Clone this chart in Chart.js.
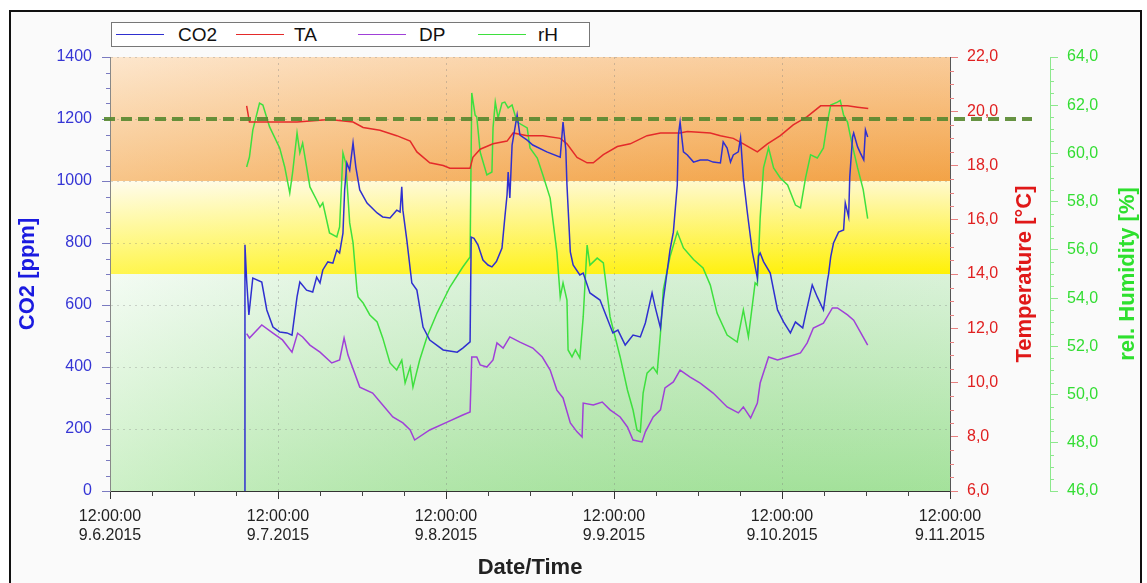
<!DOCTYPE html>
<html lang="de">
<head>
<meta charset="UTF-8">
<title>CO2 / TA / DP / rH</title>
<script src="https://cdn.jsdelivr.net/npm/chart.js"></script>
<style>
    body {
        margin: 0;
        background: #ffffff;
        font-family: "Liberation Sans", Arial, sans-serif;
    }
    .frame {
        position: absolute;
        left: 9px; top: 10px;
        width: 1133px; height: 590px;
        border: 2px solid #111;
        box-sizing: border-box;
        background: #fafafa;
    }
    #chart {
        position: absolute;
        left: 0; top: 0;
    }
    .legend {
        position: absolute;
        left: 111px; top: 22px;
        width: 479px; height: 25px;
        border: 1px solid #777;
        box-sizing: border-box;
        background: #fff;
    }
    .legend .sw {
        position: absolute;
        top: 11px;
        width: 48px; height: 1px;
    }
    .legend .lb {
        position: absolute;
        top: 1px;
        font-size: 19px;
        line-height: 22px;
        color: #111;
    }
</style>
</head>
<body>

<div class="frame"></div>
<canvas id="chart" width="1147" height="583"></canvas>
<div class="legend">
    <span class="sw" style="left:4px;background:#2f2fd0"></span><span class="lb" style="left:66px">CO2</span>
    <span class="sw" style="left:124px;background:#e42a2a"></span><span class="lb" style="left:182px">TA</span>
    <span class="sw" style="left:246px;background:#a040d8"></span><span class="lb" style="left:307px">DP</span>
    <span class="sw" style="left:366px;background:#3ee03e"></span><span class="lb" style="left:426px">rH</span>
</div>

<script>
// x values are days after 9.6.2015 12:00:00, one tick label every 30 days
const xTickDates = ['9.6.2015', '9.7.2015', '9.8.2015', '9.9.2015', '9.10.2015', '9.11.2015'];

const co2Day = [24.0,24.1,24.4,24.8,25.5,27.1,28.0,29.1,30.3,31.6,
    32.5,33.4,33.9,35.1,36.2,36.9,37.5,38.0,38.9,39.8,
    40.5,41.0,41.6,41.9,42.3,42.8,43.4,43.9,44.6,45.9,
    47.7,48.7,50.0,51.2,51.8,52.1,52.3,53.0,53.9,54.8,
    55.9,57.1,59.5,62.0,63.0,64.3,64.5,65.0,65.7,66.6,
    67.5,68.2,69.0,70.0,70.5,70.9,71.1,71.4,71.8,72.7,
    73.2,74.5,75.5,78.0,80.4,80.9,81.4,81.6,82.2,82.7,
    83.9,84.5,85.7,87.5,89.8,90.7,92.0,93.4,94.7,95.6,
    96.8,97.4,98.3,98.8,100.0,100.6,101.3,101.5,101.8,102.4,
    103.1,104.2,105.4,106.7,107.7,109.0,109.5,110.2,110.8,111.3,
    112.2,112.6,113.1,113.8,114.7,115.6,115.8,116.1,116.7,117.9,
    119.2,120.3,121.5,122.4,123.7,124.2,125.4,126.3,127.4,128.1,
    128.3,128.7,129.2,130.1,131.0,131.3,131.9,132.1,132.6,132.8,
    133.5,134.0,134.6,134.9,135.3];
const co2Ppm = [0,794,680,568,687,674,584,529,513,510,
    503,626,674,648,642,690,671,713,739,735,
    777,768,832,971,1058,1035,1123,1045,971,929,
    897,884,881,906,900,981,906,810,671,648,
    529,487,455,448,461,481,819,815,794,745,
    729,723,740,784,881,955,1029,945,1116,1213,
    1148,1132,1116,1094,1077,1190,1100,987,771,729,
    697,703,639,616,510,519,471,503,497,542,
    639,590,526,616,777,835,987,1148,1190,1094,
    1084,1061,1068,1068,1061,1058,1126,1106,1061,1084,
    1094,1139,1010,900,771,687,758,768,740,703,
    584,545,510,545,526,568,665,626,584,677,
    697,755,800,835,842,929,884,1013,1142,1155,
    1110,1090,1068,1165,1142];

const taDay = [24.4,24.9,29.8,33.4,39.2,43.4,45.2,48.2,51.2,53.6,
    54.8,57.1,59.5,60.7,64.3,64.8,66.1,68.4,70.9,72.0,
    74.5,77.3,80.4,81.6,83.4,85.2,86.3,88.1,90.6,92.9,
    95.9,98.3,101.8,103.1,107.2,109.0,111.3,113.1,115.6,117.4,
    119.7,122.0,124.5,126.9,130.4,131.7,133.5,135.4];
const taTemp = [20.2,19.6,19.6,19.6,19.7,19.6,19.4,19.3,19.1,18.9,
    18.5,18.1,18.0,17.9,17.9,18.3,18.6,18.8,18.9,19.2,
    19.1,19.1,19.0,18.8,18.3,18.1,18.1,18.4,18.7,18.8,
    19.1,19.2,19.2,19.25,19.2,19.1,19.0,18.8,18.5,18.8,
    19.1,19.5,19.8,20.2,20.2,20.2,20.15,20.1];

const dpDay = [24.4,24.9,27.1,29.1,30.8,32.5,33.5,34.4,35.7,37.5,
    39.6,41.0,41.8,42.5,44.6,46.9,48.7,50.5,52.3,53.6,
    54.4,57.1,60.2,63.0,64.3,64.6,65.5,66.1,67.3,68.4,
    69.1,70.2,71.4,73.2,75.5,77.2,78.6,79.8,80.9,82.2,
    83.4,84.3,84.5,86.3,87.9,89.3,91.1,92.4,93.4,95.0,
    95.6,97.0,98.3,99.1,100.6,101.8,103.6,105.4,107.7,110.2,
    112.2,113.1,114.4,115.6,116.1,117.6,119.2,121.0,123.3,124.5,
    125.6,127.4,129.0,129.9,131.7,132.8,134.0,135.3];
const dpTemp = [11.8,11.64,12.12,11.82,11.57,11.12,11.82,11.68,11.38,11.12,
    10.72,10.83,11.64,11.01,9.83,9.61,9.17,8.73,8.51,8.25,
    7.88,8.25,8.54,8.80,8.91,10.94,10.94,10.65,10.57,10.83,
    11.46,11.27,11.68,11.49,11.27,10.94,10.46,9.72,9.43,8.51,
    8.18,7.99,9.24,9.17,9.28,8.99,8.73,8.36,7.88,7.81,
    8.18,8.73,8.99,9.80,10.02,10.46,10.20,9.98,9.61,9.10,
    8.88,9.10,8.69,9.24,9.98,10.94,10.83,10.94,11.09,11.46,
    12.01,12.19,12.75,12.75,12.49,12.30,11.86,11.38];

const rhDay = [24.4,24.9,25.5,26.7,27.3,28.5,30.3,31.2,32.1,32.6,
    33.4,33.9,34.4,35.7,36.9,37.5,38.0,39.2,40.5,41.0,
    41.6,42.1,42.8,43.4,44.1,44.3,45.2,46.4,47.7,48.7,
    50.0,51.2,52.1,52.7,53.6,54.1,55.3,56.6,58.4,60.7,
    63.0,64.3,64.6,65.2,65.5,66.1,67.3,68.2,68.4,68.8,
    69.3,70.0,70.5,71.1,71.8,72.7,74.5,75.0,76.3,77.3,
    78.6,79.8,80.4,80.9,81.6,81.8,82.5,83.1,83.9,84.5,
    85.2,85.7,87.0,88.1,89.3,91.1,92.4,93.4,94.1,94.7,
    95.2,95.9,97.0,97.7,98.3,98.8,100.0,101.3,102.4,104.2,
    105.9,107.2,108.4,110.2,112.0,113.1,114.0,115.2,115.6,116.1,
    116.7,117.6,118.5,119.7,121.0,122.4,123.3,124.2,125.1,126.3,
    127.4,128.1,128.7,129.9,130.4,131.0,131.7,132.4,133.5,134.5,
    135.3];
const rhPct = [59.44,59.85,60.97,62.09,62.01,61.10,60.23,59.44,58.36,59.19,
    60.85,60.02,60.43,58.61,58.07,57.78,57.95,56.70,56.54,56.95,
    60.02,59.60,57.12,56.29,54.34,54.05,53.80,53.30,53.01,52.35,
    51.31,51.02,51.43,50.48,51.14,50.31,51.43,52.39,53.38,54.46,
    55.29,55.71,62.51,61.59,61.51,60.06,59.11,59.23,61.06,62.13,
    61.47,62.09,62.13,61.89,62.01,61.30,61.06,60.23,59.81,59.11,
    58.15,55.91,54.05,54.63,53.92,51.85,51.56,51.85,51.52,53.22,
    56.20,55.37,55.66,55.46,53.22,51.56,50.19,49.36,48.53,48.45,
    50.06,50.89,51.14,50.89,52.55,54.34,55.71,56.74,56.08,55.60,
    55.25,54.54,53.38,52.47,52.18,53.51,52.39,54.63,54.54,57.32,
    59.40,60.23,59.40,58.98,58.69,57.86,57.74,58.98,59.94,59.81,
    60.23,61.30,62.01,62.13,62.20,61.59,61.30,60.50,59.40,58.50,
    57.30];

// CO2 comfort bands and limit line
const bandLimits = [0, 700, 1000, 1400];
const co2Limit = 1200;

function pairs(xs, ys) {
    return xs.map((x, i) => ({ x: x, y: ys[i] }));
}

function comma(v) {
    return v.toFixed(1).replace('.', ',');
}

// coloured CO2 zones behind the plot
const bandsPlugin = {
    id: 'bands',
    beforeDraw(chart) {
        const { ctx, chartArea: a } = chart;
        const y = chart.scales.y;
        const zones = [
            ['#eefaee', '#b2e8a9', 'rgba(255,255,255,0.35)', 'rgba(40,170,30,0.10)'],
            ['#fffbe6', '#fff205', 'rgba(255,255,255,0.30)', 'rgba(255,230,0,0.10)'],
            ['#fcdcb8', '#f4ab54', 'rgba(255,255,255,0.30)', 'rgba(235,120,0,0.16)']
        ];
        ctx.save();
        for (let i = 0; i < 3; i++) {
            const top = y.getPixelForValue(bandLimits[i + 1]);
            const bottom = y.getPixelForValue(bandLimits[i]);
            let g = ctx.createLinearGradient(0, top, 0, bottom);
            g.addColorStop(0, zones[i][0]);
            g.addColorStop(1, zones[i][1]);
            ctx.fillStyle = g;
            ctx.fillRect(a.left, top, a.right - a.left, bottom - top);
            g = ctx.createLinearGradient(a.left, 0, a.right, 0);
            g.addColorStop(0, zones[i][2]);
            g.addColorStop(1, zones[i][3]);
            ctx.fillStyle = g;
            ctx.fillRect(a.left, top, a.right - a.left, bottom - top);
        }
        ctx.restore();
    },
    afterDatasetsDraw(chart) {
        const { ctx } = chart;
        const yy = chart.scales.y.getPixelForValue(co2Limit);
        ctx.save();
        ctx.strokeStyle = 'rgba(85,135,45,0.9)';
        ctx.lineWidth = 4;
        ctx.setLineDash([11, 6]);
        ctx.beginPath();
        ctx.moveTo(chart.scales.y.right - 6, yy);
        ctx.lineTo(chart.scales.yT.right - 18, yy);
        ctx.stroke();
        ctx.restore();
    }
};

// minor tick marks and the right-hand axis titles
const axisExtras = {
    id: 'axisExtras',
    afterDraw(chart) {
        const { ctx, chartArea: a, scales } = chart;
        ctx.save();
        ctx.lineWidth = 1;
        const vMinor = (scale, step, major, x0, x1, color) => {
            ctx.strokeStyle = color;
            for (let v = scale.min; v <= scale.max + 1e-9; v += step) {
                if (Math.abs(v / major - Math.round(v / major)) < 1e-6) continue;
                const p = Math.round(scale.getPixelForValue(v)) + 0.5;
                ctx.beginPath();
                ctx.moveTo(x0, p);
                ctx.lineTo(x1, p);
                ctx.stroke();
            }
        };
        vMinor(scales.y, 50, 200, a.left - 4, a.left, '#7a7ac0');
        vMinor(scales.yT, 0.5, 2, scales.yT.left, scales.yT.left + 4, '#e88080');
        vMinor(scales.yH, 0.5, 2, scales.yH.left, scales.yH.left + 4, '#8ce88c');
        ctx.strokeStyle = '#444';
        for (let v = 7.5; v < 150; v += 7.5) {
            if (v % 30 === 0) continue;
            const p = Math.round(scales.x.getPixelForValue(v)) + 0.5;
            ctx.beginPath();
            ctx.moveTo(p, a.bottom);
            ctx.lineTo(p, a.bottom + 5);
            ctx.stroke();
        }
        const midY = (a.top + a.bottom) / 2;
        const titles = [
            ['Temperature [\u00B0C]', '#e01818', scales.yT.left + 75],
            ['rel. Humidity [%]', '#2ee02e', scales.yH.left + 78]
        ];
        ctx.font = 'bold 22px "Liberation Sans", Arial, sans-serif';
        ctx.textAlign = 'center';
        ctx.textBaseline = 'middle';
        titles.forEach(t => {
            ctx.save();
            ctx.translate(t[2], midY);
            ctx.rotate(-Math.PI / 2);
            ctx.fillStyle = t[1];
            ctx.fillText(t[0], 0, 0);
            ctx.restore();
        });
        ctx.restore();
    }
};

const tickFont = { family: '"Liberation Sans", Arial, sans-serif', size: 16 };
const titleFont = { family: '"Liberation Sans", Arial, sans-serif', size: 22, weight: 'bold' };

new Chart(document.getElementById('chart').getContext('2d'), {
    type: 'line',
    data: {
        datasets: [
            { label: 'CO2', data: pairs(co2Day, co2Ppm), borderColor: '#2f2fd0', yAxisID: 'y' },
            { label: 'TA', data: pairs(taDay, taTemp), borderColor: '#e42a2a', yAxisID: 'yT' },
            { label: 'DP', data: pairs(dpDay, dpTemp), borderColor: '#a040d8', yAxisID: 'yT' },
            { label: 'rH', data: pairs(rhDay, rhPct), borderColor: '#3ee03e', yAxisID: 'yH' }
        ]
    },
    options: {
        responsive: false,
        animation: false,
        elements: {
            point: { radius: 0 },
            line: { borderWidth: 1.5, tension: 0 }
        },
        layout: { padding: { top: 57, left: 0, right: 0, bottom: 0 } },
        plugins: {
            legend: { display: false },
            tooltip: { enabled: false }
        },
        scales: {
            x: {
                type: 'linear',
                min: 0,
                max: 150,
                afterFit: s => { s.height = 92; },
                ticks: {
                    stepSize: 30,
                    autoSkip: false,
                    maxRotation: 0,
                    padding: 8,
                    color: '#222',
                    font: tickFont,
                    callback: v => ['12:00:00', xTickDates[Math.round(v / 30)]]
                },
                grid: { color: 'rgba(120,120,120,0.35)', tickColor: '#333', tickLength: 8 },
                border: { color: '#333', dash: [2, 4] },
                title: { display: true, text: 'Date/Time', color: '#222', font: titleFont, padding: { top: 0, bottom: 2 } }
            },
            y: {
                position: 'left',
                min: 0,
                max: 1400,
                afterFit: s => { s.width = 110; },
                ticks: { stepSize: 200, padding: 10, color: '#3535d5', font: tickFont, callback: v => String(v) },
                grid: { color: 'rgba(120,120,120,0.30)', tickColor: '#7a7ac0', tickLength: 8 },
                border: { color: '#888', dash: [2, 4] },
                title: { display: true, text: 'CO2 [ppm]', color: '#1a1ae0', font: titleFont, padding: { top: 15, bottom: 0 } }
            },
            yT: {
                position: 'right',
                min: 6,
                max: 22,
                afterFit: s => { s.width = 100; },
                ticks: { stepSize: 2, padding: 9, color: '#e02020', font: tickFont, callback: v => comma(v) },
                grid: { drawOnChartArea: false, tickColor: '#e88080', tickLength: 8 },
                border: { color: '#555' }
            },
            yH: {
                position: 'right',
                min: 46,
                max: 64,
                afterFit: s => { s.width = 97; },
                ticks: { stepSize: 2, padding: 9, color: '#33dd33', font: tickFont, callback: v => comma(v) },
                grid: { drawOnChartArea: false, tickColor: '#8ce88c', tickLength: 8 },
                border: { color: '#8ce88c' }
            }
        }
    },
    plugins: [bandsPlugin, axisExtras]
});
</script>

</body>
</html>
